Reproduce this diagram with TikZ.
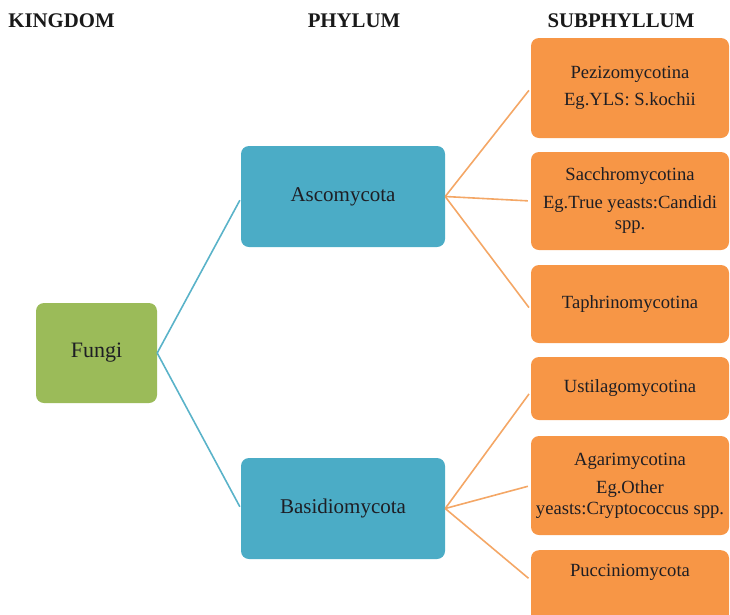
\documentclass[tikz,border=0pt]{standalone}
\usepackage{fontspec}
\setmainfont{Liberation Serif}
\definecolor{fgreen}{HTML}{9BBB59}
\definecolor{fteal}{HTML}{4BACC6}
\definecolor{forange}{HTML}{F79646}
\definecolor{tealline}{HTML}{5AB3C9}
\definecolor{orangeline}{HTML}{F4A766}
\definecolor{txt}{HTML}{1E1E24}
\begin{document}
\begin{tikzpicture}[x=1pt,y=-1pt,
  basebox/.style={rounded corners=8pt, inner sep=0pt, align=center, text=txt, draw=none},
  kbox/.style={basebox, fill=fgreen, minimum width=121pt, minimum height=100pt, font=\fontsize{22}{26}\selectfont},
  pbox/.style={basebox, fill=fteal, minimum width=204pt, minimum height=101pt, font=\fontsize{21}{25}\selectfont},
  sbox/.style={basebox, fill=forange, minimum width=198pt, font=\fontsize{18.6}{21}\selectfont},
  header/.style={anchor=base, font=\bfseries\fontsize{20.8}{24}\selectfont, text=black!90, inner sep=0pt},
  tline/.style={draw=tealline, line width=1.6pt, shorten >=2pt},
  oline/.style={draw=orangeline, line width=1.6pt, shorten >=3pt}
]
\useasboundingbox (0,0) rectangle (730,614);

% headers
\node[header] (hk) at (61.5,27) {KINGDOM};
\node[header] (hp) at (354,27) {PHYLUM};
\node[header] (hs) at (621,27) {SUBPHYLLUM};

% kingdom
\node[kbox] (fungi) at (96.5,353) {Fungi};

% phyla
\node[pbox] (asco) at (343,196.5) {Ascomycota};
\node[pbox] (basi) at (343,508.5) {Basidiomycota};

% subphyla
\node[sbox, minimum height=100pt] (b1) at (630,88) {Pezizomycotina\\[6pt]Eg.YLS: S.kochii};
\node[sbox, minimum height=98pt] (b2) at (630,201) {Sacchromycotina\\[7pt]Eg.True yeasts:Candidi\\spp.};
\node[sbox, minimum height=78pt] (b3) at (630,304) {Taphrinomycotina};
\node[sbox, minimum height=63pt] (b4) at (630,388.5) {Ustilagomycotina};
\node[sbox, minimum height=99pt] (b5) at (630,485.5) {Agarimycotina\\[7pt]Eg.Other\\yeasts:Cryptococcus spp.};
\node[sbox, minimum height=80pt, anchor=north] (b6) at (630,550) {};
\node[sbox, fill=none] (t6) at (630,572) {Pucciniomycota};

% connectors
\draw[tline] (fungi.east) -- ([yshift=-2pt]asco.west);
\draw[tline] (fungi.east) -- (basi.west);

\draw[oline] (asco.east) -- (b1.west);
\draw[oline] (asco.east) -- (b2.west);
\draw[oline] (asco.east) -- ([yshift=-6pt]b3.west);

\draw[oline] (basi.east) -- ([yshift=-3pt]b4.west);
\draw[oline] (basi.east) -- (b5.west);
\draw[oline] (basi.east) -- ([yshift=10pt]b6.west);
\end{tikzpicture}
\end{document}
